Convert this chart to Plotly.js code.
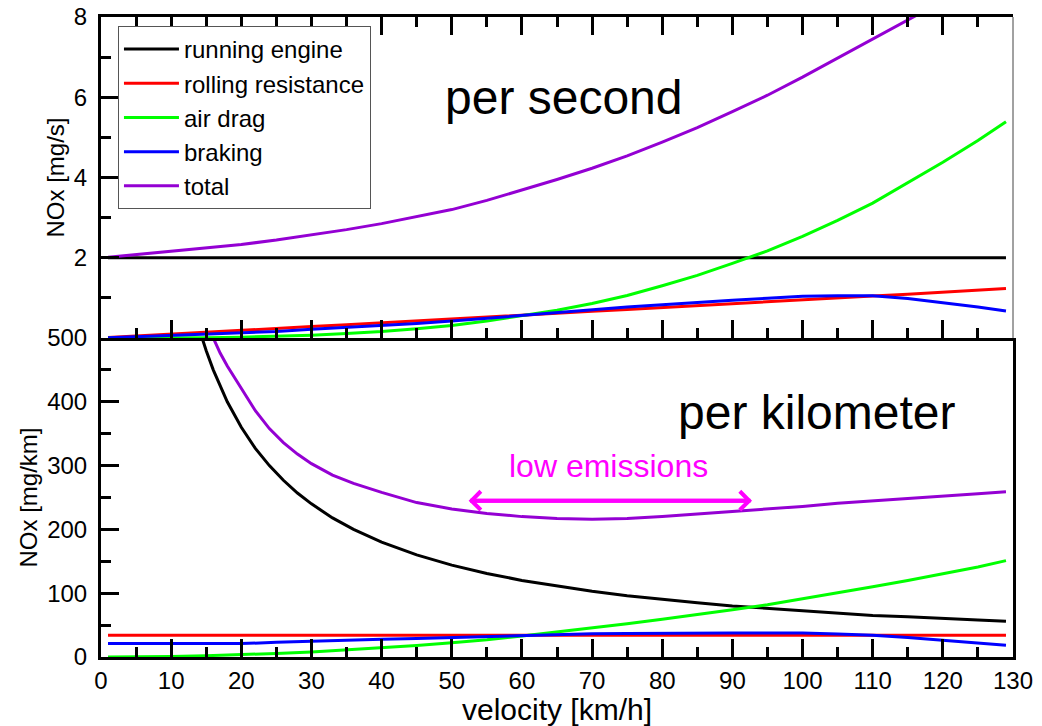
<!DOCTYPE html>
<html>
<head>
<meta charset="utf-8">
<script src="https://cdn.plot.ly/plotly-3.0.1.min.js"></script>
<style>
  html, body { margin: 0; padding: 0; background: #fff; }
  #chart { width: 1042px; height: 726px; }
</style>
</head>
<body>
<div id="chart"></div>
<script>
// ---- data ----
const seriesNames = ['running engine', 'rolling resistance', 'air drag', 'braking', 'total'];
const seriesColors = ['#000000', '#ff0000', '#00ff00', '#0000ff', '#9400d3'];

// per second panel [mg/s]
const velocity = [1, 5, 10, 15, 20, 25, 30, 35, 40, 45, 50, 55, 60, 65, 70, 75, 80, 85, 90, 95, 100, 105, 110, 115, 120, 125, 129];
const engineS  = [2, 2, 2, 2, 2, 2, 2, 2, 2, 2, 2, 2, 2, 2, 2, 2, 2, 2, 2, 2, 2, 2, 2, 2, 2, 2, 2];
const rollingS = [0.01, 0.05, 0.095, 0.14, 0.19, 0.24, 0.285, 0.33, 0.38, 0.43, 0.475, 0.52, 0.57, 0.62, 0.665, 0.71, 0.76, 0.81, 0.855, 0.90, 0.95, 1.0, 1.045, 1.09, 1.14, 1.19, 1.23];
const airS     = [0, 0, 0.003, 0.008, 0.02, 0.04, 0.07, 0.11, 0.16, 0.23, 0.31, 0.42, 0.55, 0.69, 0.86, 1.06, 1.30, 1.56, 1.86, 2.17, 2.53, 2.93, 3.36, 3.86, 4.38, 4.92, 5.39];
const brakingS = [0.006, 0.03, 0.058, 0.088, 0.117, 0.16, 0.215, 0.26, 0.31, 0.36, 0.42, 0.49, 0.57, 0.64, 0.71, 0.77, 0.83, 0.89, 0.94, 0.99, 1.04, 1.055, 1.05, 0.985, 0.88, 0.77, 0.67];
const totalS   = [2.01, 2.08, 2.16, 2.24, 2.33, 2.44, 2.57, 2.70, 2.85, 3.02, 3.20, 3.43, 3.69, 3.95, 4.23, 4.54, 4.88, 5.24, 5.64, 6.05, 6.50, 6.97, 7.45, 7.93, 8.4, 8.9, 9.3];

// per kilometer panel [mg/km]
const rollingKm = [34, 34, 34, 34, 34, 34, 34, 34, 34, 34, 34, 34, 34, 34, 34, 34, 34, 34, 34, 34, 34, 34, 34, 34, 34, 34, 34];
const airKm     = [0, 0.2, 0.9, 2, 3.6, 5.6, 8, 11, 14.4, 18, 22.5, 27, 33, 39, 45, 52, 59, 66, 74, 82, 91, 101, 110, 120, 130, 141, 151];
const brakingKm = [21, 21, 21, 21, 21, 23, 25, 26.5, 28, 29, 30.5, 32, 34, 35.5, 36.5, 37, 37.5, 37.5, 37.5, 37.5, 37.5, 36, 34, 30.5, 26, 22, 18.5];
const velocityKm = [14, 15, 16, 17, 18, 20, 22, 24, 26, 28, 30, 33, 36, 40, 45, 50, 55, 60, 65, 70, 75, 80, 85, 90, 95, 100, 105, 110, 115, 120, 125, 129];
const engineKm  = [514, 480, 450, 424, 400, 360, 327, 300, 277, 257, 240, 218, 200, 180, 160, 144, 131, 120, 111, 103, 96, 90, 85, 80, 76, 72, 69, 65, 63, 60, 58, 56];
const totalKm   = [565, 530, 500, 476, 456, 420, 386, 358, 336, 318, 303, 285, 272, 258, 242, 232, 225, 220, 217, 216, 217, 220, 224, 228, 231, 236, 241, 245, 249, 253, 256, 259];

// tick labels
const xTicks = [0, 10, 20, 30, 40, 50, 60, 70, 80, 90, 100, 110, 120, 130];
const yTopTicks = [0, 2, 4, 6, 8];
const yTopTickText = ['', '2', '4', '6', '8'];
const yBotTicks = [0, 100, 200, 300, 400, 500];

// low-emission range
const lowEmissionRange = [52.4, 92.8];
const lowEmissionLevel = 245;

// ---- traces ----
const FONT = 'Liberation Sans, Arial, Helvetica, sans-serif';
const LW = 3;
const perSecond = [engineS, rollingS, airS, brakingS, totalS];
const traces = [];
perSecond.forEach((ys, i) => {
  traces.push({
    x: velocity, y: ys, xaxis: 'x2', yaxis: 'y2', type: 'scatter', mode: 'lines',
    name: seriesNames[i], line: { color: seriesColors[i], width: LW }, showlegend: true
  });
});
const perKm = [
  [velocityKm, engineKm], [velocity, rollingKm], [velocity, airKm], [velocity, brakingKm], [velocityKm, totalKm]
];
perKm.forEach((d, i) => {
  traces.push({
    x: d[0], y: d[1], xaxis: 'x', yaxis: 'y', type: 'scatter', mode: 'lines',
    name: seriesNames[i], line: { color: seriesColors[i], width: LW }, showlegend: false
  });
});

const axisCommon = {
  showgrid: false, zeroline: false, showline: true, linecolor: '#000', linewidth: 3,
  ticks: 'inside', ticklen: 18, tickwidth: 3, tickcolor: '#000',
  tickfont: { family: FONT, size: 24, color: '#000' }
};
const xMinor = { ticks: 'inside', dtick: 5, tick0: 0, ticklen: 10, tickwidth: 3, tickcolor: '#000', showgrid: false };

const layout = {
  width: 1042, height: 726,
  margin: { l: 101, r: 29, t: 17, b: 69 },
  paper_bgcolor: '#fff', plot_bgcolor: '#fff',
  font: { family: FONT, color: '#000' },
  showlegend: true,
  legend: {
    x: 0.0186, y: 0.986, xanchor: 'left', yanchor: 'top',
    bgcolor: '#fff', bordercolor: '#555', borderwidth: 1,
    font: { family: FONT, size: 24, color: '#000' },
    itemwidth: 55, tracegroupgap: 0
  },
  xaxis: Object.assign({}, axisCommon, {
    domain: [0, 1], anchor: 'y', range: [0, 130],
    tickmode: 'array', tickvals: xTicks, minor: xMinor, ticklabelstandoff: 0,
    title: { text: 'velocity [km/h]', font: { family: FONT, size: 30 }, standoff: 4 }
  }),
  xaxis2: Object.assign({}, axisCommon, {
    domain: [0, 1], anchor: 'y2', range: [0, 130], mirror: 'ticks',
    tickmode: 'array', tickvals: xTicks, minor: xMinor, showticklabels: false
  }),
  yaxis: Object.assign({}, axisCommon, {
    domain: [0, 0.4985], anchor: 'x', range: [0, 500], mirror: true,
    tickmode: 'array', tickvals: yBotTicks, ticklabelstandoff: 6,
    minor: { ticks: 'inside', dtick: 50, tick0: 0, ticklen: 10, tickwidth: 3, tickcolor: '#000', showgrid: false },
    title: { text: 'NOx [mg/km]', font: { family: FONT, size: 24 }, standoff: 3 }
  }),
  yaxis2: Object.assign({}, axisCommon, {
    domain: [0.4985, 1], anchor: 'x2', range: [0, 8],
    tickmode: 'array', tickvals: yTopTicks, ticktext: yTopTickText, ticklabelstandoff: 6,
    minor: { ticks: 'inside', tickmode: 'array', tickvals: [1, 3, 5, 7], ticklen: 10, tickwidth: 3, tickcolor: '#000', showgrid: false },
    title: { text: 'NOx [mg/s]', font: { family: FONT, size: 24 }, standoff: 3 }
  }),
  shapes: [
    { type: 'line', xref: 'x2 domain', yref: 'y2 domain', x0: 1, x1: 1, y0: 0, y1: 1,
      line: { color: '#444', width: 1 } }
  ],
  annotations: [
    { xref: 'x2', yref: 'y2', x: 66, y: 6.0, text: 'per second', showarrow: false,
      font: { family: FONT, size: 48, color: '#000' } },
    { xref: 'x', yref: 'y', x: 102, y: 383, text: 'per kilometer', showarrow: false,
      font: { family: FONT, size: 48, color: '#000' } },
    { xref: 'x', yref: 'y', x: 72.3, y: 299, text: 'low emissions', showarrow: false,
      font: { family: FONT, size: 32, color: '#ff00ff' } },
    { xref: 'x', yref: 'y', axref: 'x', ayref: 'y', x: lowEmissionRange[0], y: lowEmissionLevel,
      ax: lowEmissionRange[1], ay: lowEmissionLevel, text: '', showarrow: true, arrowhead: 4, arrowsize: 0.9,
      arrowwidth: 4, arrowcolor: '#ff00ff', standoff: 0, startstandoff: 0 },
    { xref: 'x', yref: 'y', axref: 'x', ayref: 'y', x: lowEmissionRange[1], y: lowEmissionLevel,
      ax: lowEmissionRange[0], ay: lowEmissionLevel, text: '', showarrow: true, arrowhead: 4, arrowsize: 0.9,
      arrowwidth: 4, arrowcolor: '#ff00ff', standoff: 0, startstandoff: 0 }
  ]
};

Plotly.newPlot('chart', traces, layout, { staticPlot: true, displayModeBar: false });
</script>
</body>
</html>
